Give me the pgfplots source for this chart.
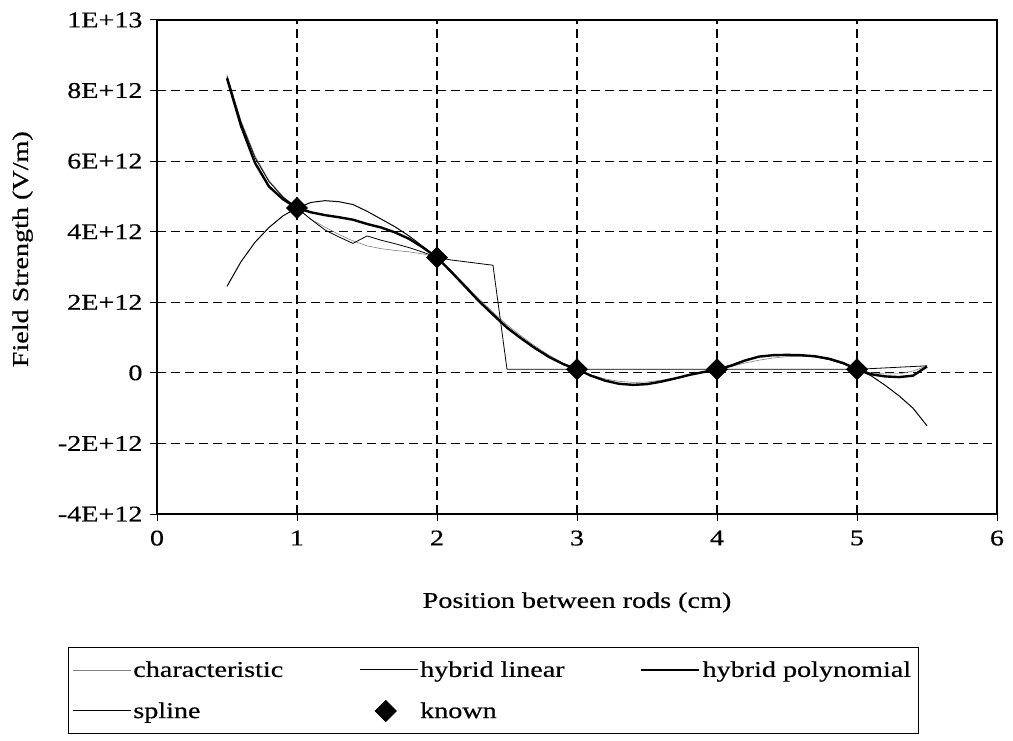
\documentclass[border=0pt]{standalone}
\usepackage{fontspec}
\setmainfont{Liberation Serif}[FakeStretch=1.25, FakeBold=0.5]
\usepackage{pgfplots}
\usepackage{pgfplotstable}
\pgfplotsset{compat=1.18}
\newcommand\mainsize{\fontsize{22.5bp}{26bp}\selectfont}
\pgfplotsset{knownlegend/.style={legend image code/.code={\draw[mark repeat=2,mark phase=2,##1] plot coordinates {(0bp,0bp) (26bp,0bp) (52bp,0bp)};}}}

\pgfplotstableread{
x y
0.5 8.45e12
0.6 7.15e12
0.7 6.15e12
0.8 5.45e12
0.9 5.0e12
1.0 4.67e12
1.1 4.35e12
1.2 4.13e12
1.3 3.92e12
1.4 3.74e12
1.5 3.6e12
1.6 3.52e12
1.7 3.47e12
1.8 3.43e12
1.9 3.37e12
2.0 3.27e12
2.1 2.9e12
2.2 2.5e12
2.3 2.1e12
2.4 1.72e12
2.5 1.36e12
2.6 1.05e12
2.7 0.76e12
2.8 0.5e12
2.9 0.28e12
3.0 0.1e12
3.1 -0.06e12
3.2 -0.17e12
3.3 -0.24e12
3.4 -0.27e12
3.5 -0.26e12
3.6 -0.21e12
3.7 -0.14e12
3.8 -0.06e12
3.9 0.02e12
4.0 0.1e12
4.1 0.18e12
4.2 0.28e12
4.3 0.36e12
4.4 0.42e12
4.5 0.46e12
4.6 0.47e12
4.7 0.45e12
4.8 0.38e12
4.9 0.26e12
5.0 0.1e12
5.1 0.0e12
5.2 -0.03e12
5.3 -0.03e12
5.4 0.05e12
5.5 0.2e12
}\characteristic

\pgfplotstableread{
x y
0.5 8.4e12
0.6 7.1e12
0.7 6.1e12
0.8 5.42e12
0.9 4.98e12
1.0 4.67e12
1.1 4.35e12
1.2 4.05e12
1.3 3.85e12
1.4 3.67e12
1.5 3.88e12
1.6 3.76e12
1.7 3.66e12
1.8 3.55e12
1.9 3.42e12
2.0 3.27e12
2.1 3.2e12
2.2 3.15e12
2.3 3.1e12
2.4 3.05e12
2.5 0.1e12
2.6 0.1e12
3.0 0.1e12
3.5 0.1e12
4.0 0.1e12
4.5 0.1e12
5.0 0.1e12
5.5 0.2e12
}\hybridlinear

\pgfplotstableread{
x y
0.5 8.35e12
0.6 7.0e12
0.7 5.95e12
0.8 5.28e12
0.9 4.92e12
1.0 4.67e12
1.1 4.55e12
1.2 4.47e12
1.3 4.41e12
1.4 4.34e12
1.5 4.22e12
1.6 4.12e12
1.7 3.98e12
1.8 3.8e12
1.9 3.55e12
2.0 3.27e12
2.1 2.87e12
2.2 2.45e12
2.3 2.03e12
2.4 1.65e12
2.5 1.28e12
2.6 0.98e12
2.7 0.7e12
2.8 0.45e12
2.9 0.25e12
3.0 0.1e12
3.1 -0.08e12
3.2 -0.22e12
3.3 -0.31e12
3.4 -0.34e12
3.5 -0.32e12
3.6 -0.25e12
3.7 -0.16e12
3.8 -0.06e12
3.9 0.02e12
4.0 0.1e12
4.1 0.2e12
4.2 0.35e12
4.3 0.46e12
4.4 0.5e12
4.5 0.51e12
4.6 0.5e12
4.7 0.47e12
4.8 0.4e12
4.9 0.28e12
5.0 0.1e12
5.1 -0.04e12
5.2 -0.1e12
5.3 -0.12e12
5.4 -0.08e12
5.5 0.18e12
}\hybridpoly

\pgfplotstableread{
x y
0.5 2.45e12
0.6 3.15e12
0.7 3.7e12
0.8 4.12e12
0.9 4.45e12
1.0 4.67e12
1.1 4.83e12
1.2 4.88e12
1.3 4.85e12
1.4 4.77e12
1.5 4.58e12
1.6 4.36e12
1.7 4.14e12
1.8 3.88e12
1.9 3.58e12
2.0 3.27e12
2.1 2.88e12
2.2 2.46e12
2.3 2.05e12
2.4 1.67e12
2.5 1.3e12
2.6 0.99e12
2.7 0.71e12
2.8 0.46e12
2.9 0.26e12
3.0 0.1e12
3.1 -0.08e12
3.2 -0.22e12
3.3 -0.31e12
3.4 -0.34e12
3.5 -0.32e12
3.6 -0.25e12
3.7 -0.16e12
3.8 -0.06e12
3.9 0.02e12
4.0 0.1e12
4.1 0.22e12
4.2 0.36e12
4.3 0.46e12
4.4 0.5e12
4.5 0.51e12
4.6 0.5e12
4.7 0.46e12
4.8 0.38e12
4.9 0.26e12
5.0 0.1e12
5.1 -0.08e12
5.2 -0.35e12
5.3 -0.65e12
5.4 -1.0e12
5.5 -1.5e12
}\spline

\pgfplotstableread{
x y
1 4.67e12
2 3.27e12
3 0.1e12
4 0.1e12
5 0.1e12
}\known

\begin{document}
\begin{tikzpicture}
\begin{axis}[
  at={(157bp,227bp)}, anchor=south west,
  scale only axis,
  width=840bp, height=494bp,
  xmin=0, xmax=6, ymin=-4e12, ymax=1e13,
  xtick={0,1,2,3,4,5,6},
  xticklabels={0,1,2,3,4,5,6},
  ytick={-4e12,-2e12,0,2e12,4e12,6e12,8e12,1e13},
  yticklabels={-4E+12,-2E+12,0,2E+12,4E+12,6E+12,8E+12,1E+13},
  scaled y ticks=false,
  tick align=outside,
  major tick length=7bp,
  tick pos=left,
  axis line style={line width=1.3bp},
  every tick/.style={black, line width=1bp},
  grid=major,
  major grid style={black, line width=1.1bp, dash pattern=on 9bp off 5bp},
  tick label style={font=\mainsize},
  label style={font=\mainsize},
  yticklabel style={xshift=-4bp},
  xticklabel style={yshift=-6bp},
  xlabel={Position between rods (cm)},
  ylabel={Field Strength (V/m)},
  xlabel style={at={(axis description cs:0.5,-0.190)}, anchor=base},
  ylabel style={at={(axis description cs:-0.1536,0.536)}, anchor=base, rotate=0},
  legend columns=3,
  legend style={
    at={(axis description cs:-0.106,-0.269)}, anchor=north west,
    font=\mainsize, draw=black, line width=0.8bp,
    inner xsep=4bp, inner ysep=12bp, row sep=20bp,
    nodes={inner sep=2bp},
  },
  legend cell align=left,
  legend image code/.code={\draw[#1] (0bp,0bp) -- (58bp,0bp);},
]
\addplot[gray, line width=0.6bp, no markers] table {\characteristic};
\addlegendentry{\makebox[224bp][l]{characteristic}}
\addplot[black, line width=0.8bp, no markers] table {\hybridlinear};
\addlegendentry{\makebox[218bp][l]{hybrid linear}}
\addplot[black, line width=2.4bp, no markers] table {\hybridpoly};
\addlegendentry{\makebox[210bp][l]{hybrid polynomial}}
\addplot[black, line width=1bp, no markers] table {\spline};
\addlegendentry{spline}
\addplot[only marks, mark=square*, mark size=7.5bp, mark options={rotate=45, fill=black, draw=black}, knownlegend] table {\known};
\addlegendentry{known}
\end{axis}
\pgfresetboundingbox
\useasboundingbox (0,0) rectangle (1013bp,741bp);
\end{tikzpicture}
\end{document}
